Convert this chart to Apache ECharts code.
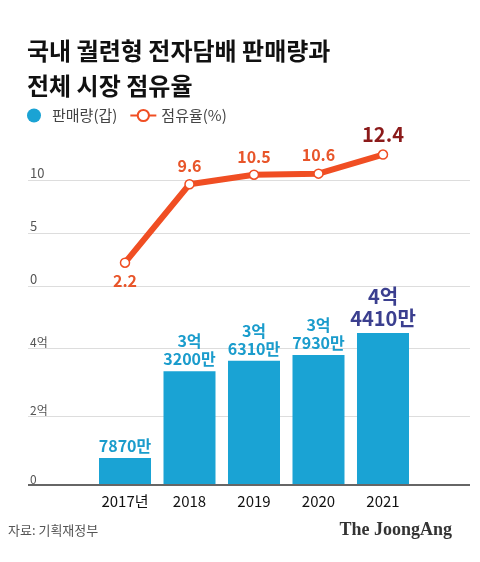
<!DOCTYPE html><html><head><meta charset="utf-8"><script src="https://cdn.jsdelivr.net/npm/echarts@6/dist/echarts.min.js"></script>
<style>body{margin:0}#c{width:480px;height:562px}</style></head><body><div id="c"></div><script>
const categories=['2017년','2018','2019','2020','2021'];
const share=[2.2,9.6,10.5,10.6,12.4];
const sales=[0.787,3.32,3.631,3.793,4.441];
const salesLabels=['7870만','3억\n3200만','3억\n6310만','3억\n7930만','4억\n4410만'];
const shareTicks=['0','5','10'];
const salesTicks=['0','2억','4억'];
const F='"Noto Sans CJK KR","Noto Sans",sans-serif';
const XMIN=-1.504,XMAX=5.349;
const chart=echarts.init(document.getElementById('c'));
chart.setOption({
animation:false,
textStyle:{fontFamily:F},
title:{text:'국내 궐련형 전자담배 판매량과\n전체 시장 점유율',left:22,top:28,textStyle:{fontFamily:F,fontSize:24,fontWeight:'bold',color:'#111',lineHeight:35}},
legend:{left:22,top:103,itemGap:12,itemWidth:26,itemHeight:14,textStyle:{fontFamily:F,fontSize:15,color:'#444'},
 data:[{name:'판매량(갑)',icon:'circle'},{name:'점유율(%)'}]},
grid:[{left:28,right:10,top:180,height:106},{left:28,right:10,top:348,height:137}],
xAxis:[
 {gridIndex:0,type:'value',min:XMIN,max:XMAX,show:false},
 {gridIndex:1,type:'value',min:XMIN,max:XMAX,axisLine:{show:false},axisTick:{show:false},splitLine:{show:false},
  axisLabel:{customValues:[0,1,2,3,4],formatter:v=>categories[Math.round(v)],fontSize:15,color:'#111',margin:9}}
],
yAxis:[
 {gridIndex:0,type:'value',min:0,max:10,interval:5,axisLine:{show:false},axisTick:{show:false},
  splitLine:{lineStyle:{color:'#ddd'}},
  axisLabel:{inside:true,margin:2,verticalAlign:'bottom',color:'#555',fontSize:13,formatter:v=>shareTicks[v/5]}},
 {gridIndex:1,type:'value',min:0,max:4,interval:2,axisLine:{show:false},axisTick:{show:false},
  splitLine:{lineStyle:{color:'#ddd'}},
  axisLabel:{inside:true,margin:2,verticalAlign:'bottom',color:'#555',fontSize:12,formatter:v=>salesTicks[v/2]}}
],
series:[
 {name:'판매량(갑)',type:'bar',clip:false,xAxisIndex:1,yAxisIndex:1,barWidth:52,itemStyle:{color:'#1aa3d4'},
  data:sales.map((v,i)=>({value:[i,v],label:i===4?{color:'#3b3f8f',fontSize:20,lineHeight:22}:{}})),
  label:{show:true,position:'top',formatter:p=>salesLabels[p.dataIndex],color:'#1a9ccc',fontWeight:'bold',fontSize:16,lineHeight:18,distance:3},
  markLine:{silent:true,symbol:'none',label:{show:false},lineStyle:{color:'#666',width:2,type:'solid'},data:[{yAxis:0}]}},
 {name:'점유율(%)',type:'line',clip:false,xAxisIndex:0,yAxisIndex:0,symbol:'circle',symbolSize:9,
  lineStyle:{color:'#f04e23',width:6},itemStyle:{color:'#fff',borderColor:'#f04e23',borderWidth:1.5},
  data:share.map((v,i)=>({value:[i,v],label:i===0?{position:'bottom'}:(i===4?{color:'#8b1a1a',fontSize:20}:{})})),
  label:{show:true,position:'top',color:'#e8552a',fontWeight:'bold',fontSize:16,distance:5}}
],
graphic:[
 {type:'text',left:8,top:524,style:{text:'자료: 기획재정부',fontFamily:F,fontSize:13,fill:'#555'}},
 {type:'text',right:28,top:521,style:{text:'The JoongAng',fontFamily:'"Liberation Serif","DejaVu Serif",serif',fontSize:18,fontWeight:'bold',fill:'#333'}}
]
});
</script></body></html>
